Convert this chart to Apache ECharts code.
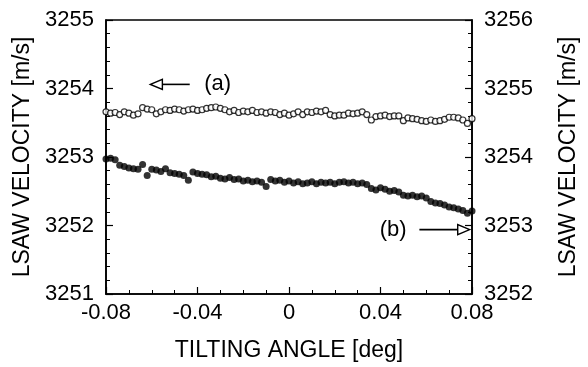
<!DOCTYPE html>
<html>
<head>
<meta charset="utf-8">
<script src="https://cdn.jsdelivr.net/npm/echarts@6/dist/echarts.min.js"></script>
<style>
  html, body { margin: 0; padding: 0; background: #fff; }
  #chart { width: 588px; height: 367px; }
</style>
</head>
<body>
<div id="chart"></div>
<script>
// Tilting angle samples [deg]
const tiltAngle = [
  -0.080, -0.078, -0.076, -0.074, -0.072, -0.070, -0.068, -0.066, -0.064, -0.062,
  -0.060, -0.058, -0.056, -0.054, -0.052, -0.050, -0.048, -0.046, -0.044, -0.042,
  -0.040, -0.038, -0.036, -0.034, -0.032, -0.030, -0.028, -0.026, -0.024, -0.022,
  -0.020, -0.018, -0.016, -0.014, -0.012, -0.010, -0.008, -0.006, -0.004, -0.002,
   0.000,  0.002,  0.004,  0.006,  0.008,  0.010,  0.012,  0.014,  0.016,  0.018,
   0.020,  0.022,  0.024,  0.026,  0.028,  0.030,  0.032,  0.034,  0.036,  0.038,
   0.040,  0.042,  0.044,  0.046,  0.048,  0.050,  0.052,  0.054,  0.056,  0.058,
   0.060,  0.062,  0.064,  0.066,  0.068,  0.070,  0.072,  0.074,  0.076,  0.078,
   0.080
];

// (a) LSAW velocity, left axis [m/s]
const velocityA = [
  3253.66, 3253.64, 3253.65, 3253.62, 3253.66, 3253.64, 3253.61, 3253.63,
  3253.72, 3253.70, 3253.69, 3253.63, 3253.66,
  3253.69, 3253.68, 3253.70, 3253.69, 3253.67, 3253.69, 3253.70, 3253.68, 3253.69, 3253.71,
  3253.72, 3253.73, 3253.71, 3253.69,
  3253.66, 3253.68, 3253.65, 3253.67, 3253.66, 3253.68, 3253.65, 3253.66, 3253.64, 3253.66, 3253.65,
  3253.62, 3253.64, 3253.61, 3253.63, 3253.66, 3253.62,
  3253.66, 3253.65, 3253.67, 3253.66,
  3253.68, 3253.62, 3253.60, 3253.61,
  3253.61, 3253.64, 3253.63, 3253.64, 3253.66, 3253.62,
  3253.54, 3253.59, 3253.60, 3253.61, 3253.59, 3253.60, 3253.60,
  3253.53, 3253.57, 3253.56, 3253.55,
  3253.53, 3253.52, 3253.54, 3253.52, 3253.53, 3253.55,
  3253.58, 3253.58, 3253.57, 3253.54, 3253.49, 3253.56
];

// (b) LSAW velocity, right axis [m/s]
const velocityB = [
  3253.97, 3253.98, 3253.96,
  3253.88, 3253.86, 3253.84, 3253.83, 3253.82,
  3253.89, 3253.73,
  3253.82, 3253.81, 3253.79, 3253.83,
  3253.77, 3253.76, 3253.75, 3253.73,
  3253.66,
  3253.78, 3253.76, 3253.75, 3253.74,
  3253.71, 3253.72, 3253.69, 3253.68, 3253.70, 3253.67, 3253.68,
  3253.65, 3253.66, 3253.64, 3253.65, 3253.63,
  3253.57,
  3253.67, 3253.65, 3253.66, 3253.63, 3253.65, 3253.62, 3253.64, 3253.61,
  3253.62, 3253.64, 3253.61, 3253.63,
  3253.62, 3253.63, 3253.61, 3253.63, 3253.64, 3253.62, 3253.63, 3253.61, 3253.62, 3253.60,
  3253.54, 3253.52, 3253.55, 3253.53,
  3253.50, 3253.51, 3253.49,
  3253.44, 3253.43, 3253.44, 3253.42, 3253.43,
  3253.40, 3253.35, 3253.33, 3253.32,
  3253.30, 3253.27, 3253.26,
  3253.24, 3253.22, 3253.18, 3253.21
];

// Axis ranges and tick labels
const xTicks = [-0.08, -0.04, 0, 0.04, 0.08];
const xTickLabels = ['-0.08', '-0.04', '0', '0.04', '0.08'];
const leftRange = [3251, 3255];
const rightRange = [3252, 3256];

const FONT = '"Liberation Sans", Arial, Helvetica, sans-serif';
const INK = '#000';

const seriesA = tiltAngle.map((x, i) => [x, velocityA[i]]);
const seriesB = tiltAngle.map((x, i) => [x, velocityB[i]]);

function yAxisCfg(range, position) {
  return {
    type: 'value',
    position: position,
    min: range[0],
    max: range[1],
    interval: 1,
    name: 'LSAW VELOCITY [m/s]',
    nameLocation: 'middle',
    nameRotate: 90,
    nameGap: position === 'left' ? 67 : 85,
    nameTextStyle: { fontFamily: FONT, fontSize: 23, color: INK },
    axisLine: { show: true, onZero: false, lineStyle: { color: INK, width: 1.6 } },
    axisTick: { show: true, inside: true, length: 7, lineStyle: { color: INK, width: 1.2 } },
    minorTick: { show: true, splitNumber: 5, length: 4, lineStyle: { color: INK, width: 1 } },
    axisLabel: {
      fontFamily: FONT, fontSize: 22, color: INK, margin: 12,
      formatter: v => String(Math.round(v))
    },
    splitLine: { show: false }
  };
}

const chart = echarts.init(document.getElementById('chart'), null, { renderer: 'canvas' });

chart.setOption({
  animation: false,
  backgroundColor: '#fff',
  grid: {
    left: 106, right: 102, top: 20, bottom: 70,
    show: true, borderColor: INK, borderWidth: 1.6, backgroundColor: 'transparent'
  },
  xAxis: {
    type: 'value',
    min: xTicks[0],
    max: xTicks[xTicks.length - 1],
    interval: 0.04,
    name: 'TILTING ANGLE [deg]',
    nameLocation: 'middle',
    nameGap: 45,
    nameTextStyle: { fontFamily: FONT, fontSize: 23, color: INK },
    axisLine: { show: true, onZero: false, lineStyle: { color: INK, width: 1.6 } },
    axisTick: { show: true, inside: true, length: 7, lineStyle: { color: INK, width: 1.2 } },
    minorTick: { show: true, splitNumber: 4, length: 4, lineStyle: { color: INK, width: 1 } },
    axisLabel: {
      fontFamily: FONT, fontSize: 22, color: INK, margin: 8,
      formatter: v => {
        const k = xTicks.findIndex(t => Math.abs(t - v) < 1e-9);
        return k >= 0 ? xTickLabels[k] : '';
      }
    },
    splitLine: { show: false }
  },
  yAxis: [yAxisCfg(leftRange, 'left'), yAxisCfg(rightRange, 'right')],
  series: [
    {
      name: '(a)',
      type: 'scatter',
      yAxisIndex: 0,
      data: seriesA,
      symbol: 'circle',
      symbolSize: 6,
      itemStyle: { color: '#fff', borderColor: INK, borderWidth: 1.2 }
    },
    {
      name: '(b)',
      type: 'scatter',
      yAxisIndex: 1,
      data: seriesB,
      symbol: 'circle',
      symbolSize: 7,
      itemStyle: { color: INK }
    }
  ]
});

// Labelled arrows pointing to the axis each series belongs to
function arrow(from, to, headLen, headHalf) {
  const dir = to[0] < from[0] ? -1 : 1;
  const baseX = to[0] - dir * headLen;
  return [
    {
      type: 'line',
      shape: { x1: from[0], y1: from[1], x2: baseX, y2: to[1] },
      style: { stroke: INK, lineWidth: 1.6 }
    },
    {
      type: 'polygon',
      shape: { points: [[to[0], to[1]], [baseX, to[1] - headHalf], [baseX, to[1] + headHalf]] },
      style: { fill: '#fff', stroke: INK, lineWidth: 1.4 }
    }
  ];
}

const pA = (x, y) => chart.convertToPixel({ xAxisIndex: 0, yAxisIndex: 0 }, [x, y]);

const aTail = pA(-0.0434, 3254.06);
const aHead = pA(-0.0606, 3254.06);
const aText = pA(-0.0312, 3254.06);
const bTail = pA(0.0570, 3251.94);
const bHead = pA(0.0790, 3251.94);
const bText = pA(0.0455, 3251.94);

chart.setOption({
  graphic: [
    ...arrow(aTail, aHead, 12, 5),
    ...arrow(bTail, bHead, 12, 5),
    {
      type: 'text', x: aText[0], y: aText[1],
      style: { text: '(a)', fontFamily: FONT, fontSize: 22, fill: INK, align: 'center', verticalAlign: 'middle' }
    },
    {
      type: 'text', x: bText[0], y: bText[1],
      style: { text: '(b)', fontFamily: FONT, fontSize: 22, fill: INK, align: 'center', verticalAlign: 'middle' }
    }
  ]
});
</script>
</body>
</html>
